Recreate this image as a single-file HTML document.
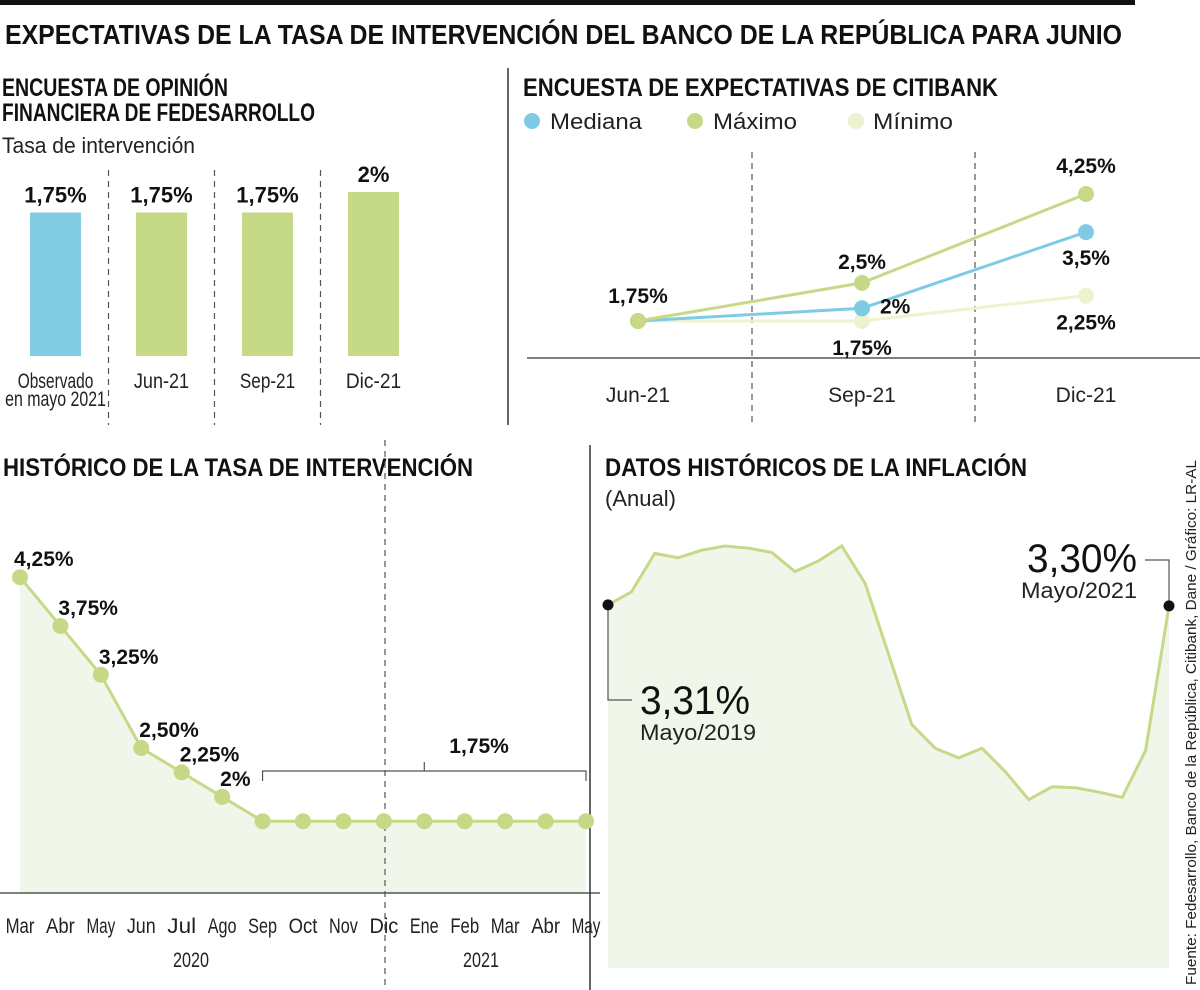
<!DOCTYPE html>
<html><head><meta charset="utf-8"><style>
html,body{margin:0;padding:0;background:#fff}
svg{display:block;font-family:"Liberation Sans",sans-serif}
.h{font-weight:bold;fill:#111}
.t{fill:#222}
</style></head><body>
<svg id="s" width="1200" height="990" viewBox="0 0 1200 990">
<rect x="0" y="0" width="1135" height="5" fill="#111"/>
<text class="h" x="5" y="44" font-size="28" textLength="1117" lengthAdjust="spacingAndGlyphs">EXPECTATIVAS DE LA TASA DE INTERVENCIÓN DEL BANCO DE LA REPÚBLICA PARA JUNIO</text>
<text class="h" x="2" y="96" font-size="25" textLength="226" lengthAdjust="spacingAndGlyphs">ENCUESTA DE OPINIÓN</text>
<text class="h" x="2" y="121" font-size="25" textLength="313" lengthAdjust="spacingAndGlyphs">FINANCIERA DE FEDESARROLLO</text>
<text class="t" x="2" y="153" font-size="22" textLength="193" lengthAdjust="spacingAndGlyphs">Tasa de intervención</text>
<line x1="508" y1="68" x2="508" y2="425" stroke="#333" stroke-width="1.5"/>
<text class="h" x="523" y="96" font-size="25" textLength="475" lengthAdjust="spacingAndGlyphs">ENCUESTA DE EXPECTATIVAS DE CITIBANK</text>
<g>
<circle cx="532" cy="121" r="8" fill="#7ecbe3"/><text class="t" x="550" y="129" font-size="22" textLength="92" lengthAdjust="spacingAndGlyphs">Mediana</text>
<circle cx="695" cy="121" r="8" fill="#c5d986"/><text class="t" x="713" y="129" font-size="22" textLength="84" lengthAdjust="spacingAndGlyphs">Máximo</text>
<circle cx="856" cy="121" r="8" fill="#eef3cf"/><text class="t" x="873" y="129" font-size="22" textLength="80" lengthAdjust="spacingAndGlyphs">Mínimo</text>
</g>
<line x1="527" y1="358" x2="1200" y2="358" stroke="#333" stroke-width="1.2"/>
<text class="h" x="3" y="476" font-size="25" textLength="470" lengthAdjust="spacingAndGlyphs">HISTÓRICO DE LA TASA DE INTERVENCIÓN</text>
<line x1="590" y1="445" x2="590" y2="990" stroke="#333" stroke-width="1.5"/>
<text class="h" x="605" y="476" font-size="25" textLength="422" lengthAdjust="spacingAndGlyphs">DATOS HISTÓRICOS DE LA INFLACIÓN</text>
<text class="t" x="605" y="506" font-size="22">(Anual)</text>
<text class="t" transform="translate(1196,985) rotate(-90)" font-size="15" textLength="525" lengthAdjust="spacingAndGlyphs">Fuente: Fedesarrollo, Banco de la República, Citibank, Dane / Gráfico: LR-AL</text>
</svg>
<script>
const NS='http://www.w3.org/2000/svg';
const svg=document.getElementById('s');
function mk(tag,a,parent){const e=document.createElementNS(NS,tag);for(const k in a)e.setAttribute(k,a[k]);(parent||svg).appendChild(e);return e;}
function tx(x,y,str,a){const e=mk('text',Object.assign({x:x,y:y},a));e.textContent=str;return e;}

// ---- Bar chart data
const barCats=['Observado|en mayo 2021','Jun-21','Sep-21','Dic-21'];
const barVals=[1.75,1.75,1.75,2];
const barLabels=['1,75%','1,75%','1,75%','2%'];
// ---- Citibank data
const citiCats=['Jun-21','Sep-21','Dic-21'];
const citiMed=[1.75,2,3.5];
const citiMax=[1.75,2.5,4.25];
const citiMin=[1.75,1.75,2.25];
// ---- Historic rate data
const rateMonths=['Mar','Abr','May','Jun','Jul','Ago','Sep','Oct','Nov','Dic','Ene','Feb','Mar','Abr','May'];
const rateVals=[4.25,3.75,3.25,2.5,2.25,2,1.75,1.75,1.75,1.75,1.75,1.75,1.75,1.75,1.75];
const rateLabels=['4,25%','3,75%','3,25%','2,50%','2,25%','2%'];
// ---- Inflation data (May 2019 - May 2021)
const inflVals=[3.31,3.43,3.79,3.75,3.82,3.86,3.84,3.80,3.62,3.72,3.86,3.51,2.85,2.19,1.97,1.88,1.97,1.75,1.49,1.61,1.60,1.56,1.51,1.95,3.30];

// Bar chart
const bx=i=>55.5+i*106, by=v=>356-v*82;
barVals.forEach((v,i)=>{
  const r=mk('rect',{x:bx(i)-25.5,y:by(v),width:51,height:356-by(v),fill:i===0?'#82cde3':'#c5d986'});
  
  
  const t=tx(bx(i),by(v)-10,barLabels[i],{'text-anchor':'middle','font-size':22,'font-weight':'bold',fill:'#111'});
  
  
  barCats[i].split('|').forEach((s,j)=>{
    const c=tx(bx(i),388+j*18,s,{'text-anchor':'middle','font-size':21,fill:'#222',textLength:s.length>8?(s.length*8.4):s.length*9.2,lengthAdjust:'spacingAndGlyphs'});
    
    
  });
  if(i>0){const d=mk('line',{x1:bx(i)-53,y1:170,x2:bx(i)-53,y2:425,stroke:'#555','stroke-dasharray':'6,5','stroke-width':1.2});
    
    }
});

// Citibank
const cx=i=>638+i*224, cy=v=>321-(v-1.75)*50.8;
[752,975].forEach(x=>{const d=mk('line',{x1:x,y1:152,x2:x,y2:425,stroke:'#555','stroke-dasharray':'6,5','stroke-width':1.2});
  
  });
citiCats.forEach((c,i)=>{const t=tx(cx(i),402,c,{'text-anchor':'middle','font-size':21,fill:'#222'});
  
  });
[[citiMin,'#eef3cf','minimo'],[citiMed,'#7ecbe3','mediana'],[citiMax,'#c5d986','maximo']].forEach(([arr,col,nm])=>{
  const l=mk('polyline',{points:arr.map((v,i)=>cx(i)+','+cy(v)).join(' '),fill:'none',stroke:col,'stroke-width':3});
  
  
  arr.forEach((v,i)=>{const p=mk('circle',{cx:cx(i),cy:cy(v),r:8,fill:col});
    
    });
});
const fmt=v=>String(v).replace('.',',')+'%';
const cl=[[cx(0),cy(citiMed[0])-18,fmt(citiMed[0]),'middle'],[cx(1),cy(citiMax[1])-14,fmt(citiMax[1]),'middle'],[cx(1)+18,cy(citiMed[1])+5,fmt(citiMed[1]),'start'],
[cx(1),cy(citiMin[1])+34,fmt(citiMin[1]),'middle'],[cx(2),cy(citiMax[2])-21,fmt(citiMax[2]),'middle'],[cx(2),cy(citiMed[2])+33,fmt(citiMed[2]),'middle'],[cx(2),cy(citiMin[2])+34,fmt(citiMin[2]),'middle']];
cl.forEach(a=>{const t=tx(a[0],a[1],a[2],{'text-anchor':a[3],'font-size':21,'font-weight':'bold',fill:'#111'});
  
  });

// Historic rate
const rx=i=>20+i*40.43, ry=v=>992-v*97.6;
const ra=mk('polygon',{points:rx(0)+',893 '+rateVals.map((v,i)=>rx(i)+','+ry(v)).join(' ')+' '+rx(rateVals.length-1)+',893',fill:'#f1f6ea'});


const rl=mk('polyline',{points:rateVals.map((v,i)=>rx(i)+','+ry(v)).join(' '),fill:'none',stroke:'#c5d986','stroke-width':3});


const ax=mk('line',{x1:0,y1:893,x2:600,y2:893,stroke:'#333','stroke-width':1.2});


const dv=mk('line',{x1:385,y1:440,x2:385,y2:990,stroke:'#555','stroke-dasharray':'6,5','stroke-width':1.2});


rateVals.forEach((v,i)=>{const p=mk('circle',{cx:rx(i),cy:ry(v),r:8,fill:'#c5d986'});
  
  
  const m=tx(rx(i),933,rateMonths[i],{'text-anchor':'middle','font-size':21,fill:'#222',textLength:rateMonths[i].length*9.6,lengthAdjust:'spacingAndGlyphs'});
  
  
  if(i<rateLabels.length){const t=tx(rx(i)-6+(i===0?0:4),ry(v)-11,rateLabels[i],{'font-size':21,'font-weight':'bold',fill:'#111'});
    
    }
});
const b0=rx(6),b1=rx(14),bm=(b0+b1)/2;
const br=mk('path',{d:`M${b0},781 V771 H${b1} V781 M${bm},771 V762`,fill:'none',stroke:'#555','stroke-width':1.2});


const bt=tx(bm+25,753,fmt(rateVals[6]),{'font-size':21,'font-weight':'bold',fill:'#111'});


[[191,'2020'],[481,'2021']].forEach(a=>{const t=tx(a[0],967,a[1],{'text-anchor':'middle','font-size':21,fill:'#222',textLength:36,lengthAdjust:'spacingAndGlyphs'});
  
  });

// Inflation
const ix=i=>608+i*(1169-608)/(inflVals.length-1), iy=v=>959-v*107;
const ia=mk('polygon',{points:ix(0)+',968 '+inflVals.map((v,i)=>ix(i)+','+iy(v)).join(' ')+' '+ix(inflVals.length-1)+',968',fill:'#f1f6ea'});


const il=mk('polyline',{points:inflVals.map((v,i)=>ix(i)+','+iy(v)).join(' '),fill:'none',stroke:'#c5d986','stroke-width':3});


const n=inflVals.length-1;
const c1=mk('path',{d:`M${ix(0)},${iy(inflVals[0])} V700 H632`,fill:'none',stroke:'#555','stroke-width':1.2});


const c2=mk('path',{d:`M${ix(n)},${iy(inflVals[n])} V560 H1145`,fill:'none',stroke:'#555','stroke-width':1.2});


[0,n].forEach(i=>{const d=mk('circle',{cx:ix(i),cy:iy(inflVals[i]),r:5.5,fill:'#111'});
  
  });
const fm2=v=>v.toFixed(2).replace('.',',')+'%';
const a1=tx(640,714,fm2(inflVals[0]),{'font-size':40,fill:'#111',textLength:110,lengthAdjust:'spacingAndGlyphs'});


const a2=tx(640,740,'Mayo/2019',{'font-size':22,fill:'#222',textLength:116,lengthAdjust:'spacingAndGlyphs'});


const a3=tx(1137,572,fm2(inflVals[n]),{'font-size':40,'text-anchor':'end',fill:'#111',textLength:110,lengthAdjust:'spacingAndGlyphs'});


const a4=tx(1137,598,'Mayo/2021',{'font-size':22,'text-anchor':'end',fill:'#222',textLength:116,lengthAdjust:'spacingAndGlyphs'});


</script>
</body></html>
